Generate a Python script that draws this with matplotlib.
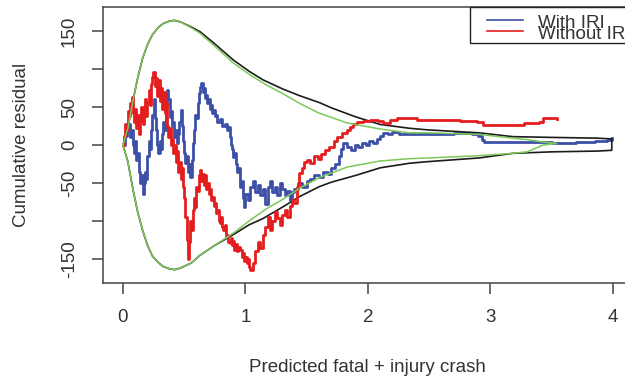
import numpy as np
import matplotlib.pyplot as plt
from matplotlib.patches import Rectangle

plt.rcParams['font.family'] = ['Liberation Sans', 'DejaVu Sans']

# cumulative residuals, model with IRI
with_iri_x = [0.00, 0.02, 0.03, 0.04, 0.05, 0.06, 0.07, 0.08, 0.09, 0.10, 0.11, 0.12, 0.13, 0.14,
              0.15, 0.16, 0.17, 0.18, 0.19, 0.20, 0.21, 0.22, 0.23, 0.24, 0.25, 0.26, 0.27, 0.28,
              0.29, 0.30, 0.31, 0.32, 0.33, 0.34, 0.35, 0.36, 0.37, 0.38, 0.39, 0.40, 0.41, 0.42,
              0.43, 0.44, 0.45, 0.46, 0.47, 0.48, 0.49, 0.50, 0.51, 0.52, 0.53, 0.54, 0.55, 0.56,
              0.57, 0.58, 0.59, 0.60, 0.61, 0.62, 0.63, 0.64, 0.65, 0.66, 0.67, 0.68, 0.69, 0.70,
              0.71, 0.72, 0.73, 0.74, 0.75, 0.76, 0.77, 0.79, 0.81, 0.83, 0.85, 0.86, 0.87, 0.88,
              0.89, 0.90, 0.91, 0.92, 0.93, 0.94, 0.955, 0.965, 0.98, 0.99, 1.00, 1.02, 1.04, 1.06,
              1.08, 1.10, 1.12, 1.14, 1.16, 1.18, 1.20, 1.22, 1.24, 1.26, 1.28, 1.30, 1.32, 1.34,
              1.36, 1.38, 1.40, 1.43, 1.46, 1.50, 1.53, 1.56, 1.60, 1.63, 1.67, 1.70, 1.73, 1.76,
              1.78, 1.80, 1.83, 1.86, 1.89, 1.92, 1.95, 1.98, 2.01, 2.04, 2.07, 2.10, 2.12, 2.16,
              2.20, 2.25, 2.30, 2.40, 2.50, 2.60, 2.70, 2.85, 2.90, 2.93, 2.95, 3.10, 3.30, 3.50,
              3.70, 3.85, 3.95, 3.99]
with_iri_y = [0, 12, 25, 18, 28, 10, 20, 0, -10, 5, -20, -10, -35, -50,
              -40, -65, -50, -35, -45, -15, 5, -5, 20, 40, 60, 35, 20, 0,
              -10, 5, -5, 15, 30, 20, 50, 72, 60, 37, 45, 25, 30, 10,
              20, 3, 15, 30, 46, 25, 5, -10, -24, -15, -35, -25, -42, -20,
              3, 20, 40, 35, 55, 68, 76, 82, 70, 75, 62, 66, 55, 60,
              48, 52, 42, 46, 38, 40, 30, 34, 25, 28, 20, 24, 10, 0,
              -5, -16, -10, -25, -35, -30, -55, -48, -70, -82, -65, -72, -55, -48,
              -62, -52, -66, -58, -78, -55, -48, -62, -55, -66, -50, -58, -66, -60,
              -72, -62, -58, -50, -55, -48, -45, -40, -42, -35, -38, -30, -25, -15,
              -5, 3, -2, -7, 0, -3, 3, 0, 5, 3, 8, 12, 16, 14,
              17, 15, 14, 15, 14, 15, 16, 15, 12, 7, 4, 4, 4, 3,
              4, 5, 7, 9]

# cumulative residuals, model without IRI
without_iri_x = [0.00, 0.01, 0.02, 0.03, 0.04, 0.05, 0.06, 0.07, 0.08, 0.09, 0.10, 0.11, 0.12, 0.13,
                 0.14, 0.15, 0.16, 0.17, 0.18, 0.19, 0.20, 0.21, 0.22, 0.23, 0.24, 0.245, 0.26, 0.27,
                 0.28, 0.29, 0.30, 0.31, 0.32, 0.33, 0.34, 0.35, 0.36, 0.37, 0.38, 0.39, 0.40, 0.41,
                 0.42, 0.43, 0.44, 0.45, 0.46, 0.47, 0.48, 0.49, 0.50, 0.51, 0.52, 0.53, 0.54, 0.55,
                 0.56, 0.57, 0.58, 0.59, 0.60, 0.61, 0.62, 0.63, 0.64, 0.65, 0.66, 0.67, 0.68, 0.69,
                 0.70, 0.71, 0.72, 0.73, 0.74, 0.75, 0.76, 0.77, 0.78, 0.79, 0.80, 0.81, 0.82, 0.83,
                 0.84, 0.85, 0.86, 0.87, 0.88, 0.89, 0.90, 0.91, 0.92, 0.93, 0.94, 0.955, 0.97, 0.98,
                 0.99, 1.00, 1.01, 1.02, 1.03, 1.04, 1.06, 1.08, 1.10, 1.12, 1.14, 1.16, 1.18, 1.20,
                 1.22, 1.24, 1.26, 1.28, 1.30, 1.32, 1.34, 1.36, 1.38, 1.40, 1.42, 1.44, 1.46, 1.48,
                 1.50, 1.53, 1.56, 1.59, 1.62, 1.65, 1.68, 1.72, 1.75, 1.79, 1.83, 1.85, 1.88, 1.91,
                 1.96, 2.02, 2.08, 2.12, 2.18, 2.24, 2.32, 2.40, 2.56, 2.75, 2.89, 2.94, 3.10, 3.27,
                 3.40, 3.43, 3.54]
without_iri_y = [0, 12, 28, 20, 45, 38, 55, 63, 42, 30, 48, 22, 40, 15,
                 32, 50, 28, 42, 60, 38, 55, 72, 52, 80, 90, 96, 78, 88,
                 65, 85, 58, 75, 48, 70, 42, 55, 25, 10, 22, 0, 8, -10,
                 0, -22, -8, -35, -22, -45, -30, -55, -70, -95, -125, -150, -128, -100,
                 -112, -85, -70, -82, -55, -60, -40, -33, -48, -38, -52, -40, -58, -50,
                 -65, -58, -72, -68, -80, -76, -90, -85, -100, -103, -95, -108, -112, -105,
                 -120, -118, -128, -129, -122, -132, -126, -138, -130, -140, -134, -138, -148, -142,
                 -152, -148, -155, -150, -160, -165, -155, -140, -128, -135, -118, -108, -95, -112,
                 -100, -88, -96, -105, -92, -85, -95, -80, -72, -76, -55, -37, -30, -22,
                 -20, -24, -15, -18, -12, -7, -3, 5, 11, 16, 20, 24, 28, 30,
                 32, 33, 31, 29, 33, 36, 35, 33, 33, 31, 30, 26, 26, 29,
                 30, 36, 34]

# simulated bounds for the model with IRI
band_x = [0, 0.04, 0.08, 0.12, 0.16, 0.20, 0.24, 0.29, 0.33, 0.38, 0.42, 0.47, 0.56, 0.63, 0.75,
          0.90, 1.03, 1.14, 1.30, 1.44, 1.60, 1.70, 1.90, 2.10, 2.34, 2.48, 2.91, 3.18, 3.50,
          3.87, 3.99]
band_upper = [0, 22, 57, 88, 114, 132, 145, 155, 160, 163, 164, 162, 155, 149, 133,
              112, 97, 86, 74, 65, 56, 49, 37, 27, 22, 20, 16, 11, 10, 9, 8]
band_lower = [0, -22, -57, -88, -112, -132, -146, -155, -160, -163, -164, -162, -155, -145, -132,
              -118, -105, -97, -82, -68, -55, -49, -40, -30, -24, -22, -17, -11, -9, -8, -7]

# simulated bounds for the model without IRI
band2_x = [0, 0.04, 0.08, 0.12, 0.16, 0.20, 0.24, 0.29, 0.33, 0.38, 0.42, 0.47, 0.56, 0.63, 0.75,
           0.90, 1.03, 1.17, 1.30, 1.44, 1.60, 1.83, 2.10, 2.34, 2.50, 2.91, 3.18, 3.30, 3.43, 3.54]
band2_upper = [0, 22, 57, 88, 114, 132, 145, 155, 160, 163, 164, 162, 154, 147, 130,
               108, 93, 79, 68, 55, 42, 29, 21, 16, 16, 14, 9, 7, 4, 2]
band2_lower = [0, -22, -57, -88, -112, -132, -146, -155, -160, -163, -164, -162, -155, -145, -132,
               -116, -100, -84, -72, -57, -43, -29, -21, -18, -17, -14, -11, -9, 0, 2]

xticks = [0, 1, 2, 3, 4]
yticks = [-150, -100, -50, 0, 50, 100, 150]
ytick_labels = ['-150', '', '-50', '0', '50', '', '150']

BLUE = '#3d50a8'
RED = '#e41e1e'
GREEN = '#7cc85a'
BLACK = '#1c1c1c'
TXT = '#333333'

W, H = 625, 378
fig = plt.figure(figsize=(W / 100, H / 100), dpi=100)
ax = fig.add_axes([103 / W, 1 - 283 / H, 528 / W, 276 / H])

ax.plot(with_iri_x, with_iri_y, color=BLUE, lw=2.0, drawstyle='steps-post', zorder=2)
ax.plot(band_x + band_x[::-1], band_upper + band_lower[::-1], color=BLACK, lw=1.2, zorder=3)
ax.plot(without_iri_x, without_iri_y, color=RED, lw=2.0, drawstyle='steps-post', zorder=4)
ax.plot(band2_x + band2_x[::-1], band2_upper + band2_lower[::-1], color=GREEN, lw=1.1, zorder=5)

ax.set_xlim(-0.163, 4.147)
ax.set_ylim(-181.6, 181.6)
ax.set_xticks(xticks)
ax.set_yticks(yticks)
ax.set_yticklabels(ytick_labels)
ax.tick_params(direction='out', length=8, width=1.1, color='#444444',
               labelsize=13.5, labelcolor=TXT)
ax.tick_params(axis='x', pad=11)
ax.tick_params(axis='y', pad=10, labelrotation=90)
for lab in ax.get_yticklabels():
    lab.set_verticalalignment('center')
for sp in ax.spines.values():
    sp.set_color('#444444')
    sp.set_linewidth(1.1)

fig.text(367 / W, 1 - 367 / H, 'Predicted fatal + injury crash', ha='center', va='center',
         fontsize=13.5, color=TXT)
fig.text(22 / W, 1 - 145 / H, 'Cumulative residual', ha='center', va='center',
         rotation=90, fontsize=13.5, color=TXT)

# legend box in the top right corner
ax.add_patch(Rectangle((0.695, 0.8696), 0.305, 0.1304, transform=ax.transAxes,
                       fill=False, ec='#222222', lw=1.0, clip_on=False, zorder=6))
ax.plot([0.727, 0.795], [0.953, 0.953], transform=ax.transAxes, color=BLUE, lw=1.2, zorder=7)
ax.plot([0.727, 0.795], [0.913, 0.913], transform=ax.transAxes, color=RED, lw=1.2, zorder=7)
ax.text(0.824, 0.924, 'With IRI', transform=ax.transAxes, va='baseline', fontsize=13.5,
        color=TXT, zorder=7)
ax.text(0.824, 0.884, 'Without IRI', transform=ax.transAxes, va='baseline', fontsize=13.5,
        color=TXT, zorder=7)

fig.savefig('out.png', dpi=100)
